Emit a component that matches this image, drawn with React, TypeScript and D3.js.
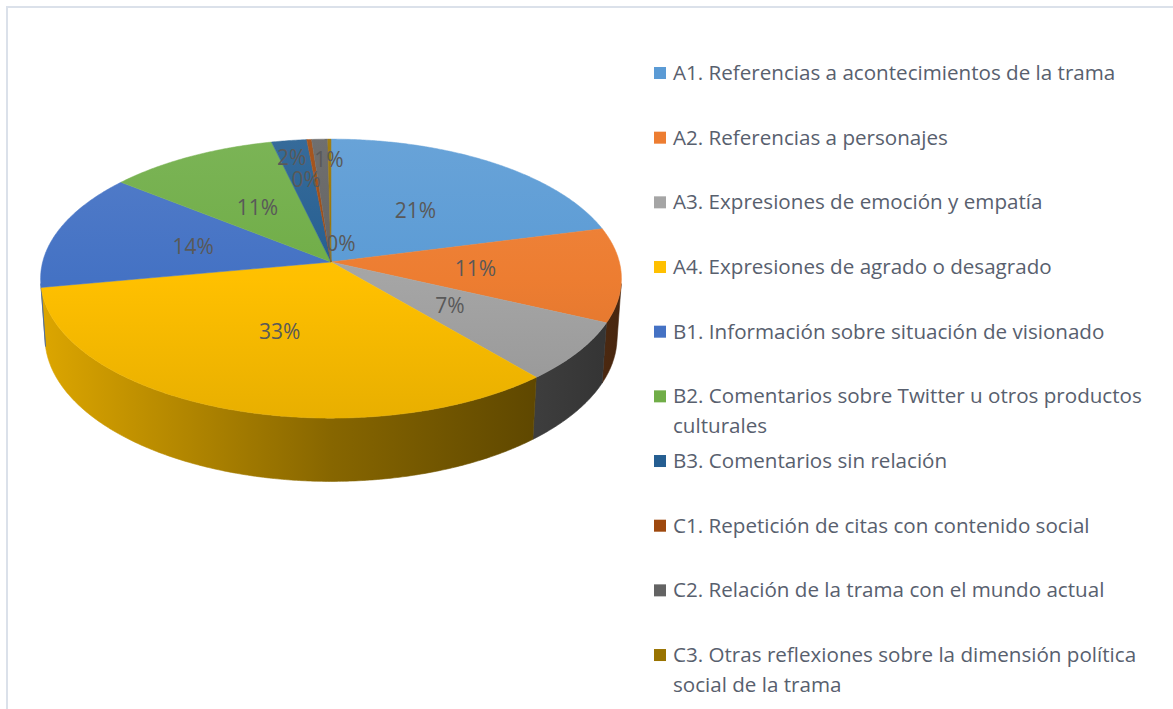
import React, { useMemo } from "react";
import * as d3 from "d3";

const categories = [
  "A1. Referencias a acontecimientos de la trama",
  "A2. Referencias a personajes",
  "A3. Expresiones de emoción y empatía",
  "A4. Expresiones de agrado o desagrado",
  "B1. Información sobre situación de visionado",
  "B2. Comentarios sobre Twitter u otros productos culturales",
  "B3. Comentarios sin relación",
  "C1. Repetición de citas con contenido social",
  "C2. Relación de la trama con el mundo actual",
  "C3. Otras reflexiones sobre la dimensión política social de la trama",
];
const values = [21.0, 10.9, 6.9, 33.3, 13.6, 10.6, 2.2, 0.3, 1.0, 0.2];
const colors = [
  "#5B9BD5", "#ED7D31", "#A5A5A5", "#FFC000", "#4472C4",
  "#70AD47", "#255E91", "#9E480E", "#636363", "#997300",
];
// label placement on the pie's top plane: radius fraction and angle nudge (degrees)
const labelPlacement = [
  { r: 0.5, dA: 0 }, { r: 0.5, dA: 0 }, { r: 0.5, dA: 0 }, { r: 0.5, dA: 0 },
  { r: 0.5, dA: 0 }, { r: 0.5, dA: 0 }, { r: 0.85, dA: -0.8 }, { r: 0.66, dA: -3.2 },
  { r: 0.82, dA: 2 }, { r: 0.145, dA: 14.4 },
];

const W = 1173;
const H = 709;
const CX = 331;
const APEX_Y = 262;
const FOCAL = 2128;
const DIST = 7.38;
const SIN_T = 0.477;
const COS_T = Math.sqrt(1 - SIN_T * SIN_T);
const THICK = 0.233;

const LEG_FONT = 20.6;
const LAB_FONT = 21;
const FONT = '"Open Sans", "Noto Sans", sans-serif';

function project(x: number, y: number, z: number): [number, number] {
  const w = DIST - y * SIN_T - z * COS_T;
  const u = (FOCAL * x) / w;
  const v = (FOCAL * (y * COS_T - z * SIN_T)) / w;
  return [CX + u, APEX_Y - v];
}
function rim(a: number, r = 1, y = 0): [number, number] {
  return project(r * Math.sin(a), y, -r * Math.cos(a));
}
function shade(col: string, k: number) {
  const c = d3.rgb(col);
  return d3.rgb(c.r * k, c.g * k, c.b * k).formatHex();
}
function sampleAngles(a0: number, a1: number) {
  const n = Math.max(2, Math.ceil((a1 - a0) / (Math.PI / 360)));
  return d3.range(n + 1).map((i) => a0 + ((a1 - a0) * i) / n);
}

let ctx: CanvasRenderingContext2D | null = null;
function measure(t: string) {
  if (!ctx) ctx = document.createElement("canvas").getContext("2d");
  if (!ctx) return t.length * LEG_FONT * 0.5;
  ctx.font = `${LEG_FONT}px ${FONT}`;
  return ctx.measureText(t).width;
}
function wrap(t: string, maxW: number) {
  const words = t.split(" ");
  const lines: string[] = [];
  let cur = "";
  for (const w of words) {
    const test = cur ? cur + " " + w : w;
    if (cur && measure(test) > maxW) {
      lines.push(cur);
      cur = w;
    } else cur = test;
  }
  if (cur) lines.push(cur);
  return lines;
}

export default function App() {
  const arcs = useMemo(
    () => d3.pie<number>().sort(null).value((d) => d)(values),
    []
  );
  const total = d3.sum(values);
  const zVis = 1 / (DIST * COS_T);
  const visA0 = Math.acos(-zVis);
  const visA1 = 2 * Math.PI - visA0;
  const apex = project(0, 0, 0);
  const topY = rim(0)[1];
  const botY = rim(Math.PI)[1];
  const leftX = CX - 295;
  const rightX = CX + 295;
  const line = d3.line();

  const legendY0 = 80;
  const legendStep = 64.67;

  return (
    <svg
      width={W}
      height={H}
      style={{ position: "absolute", left: 0, top: 0, background: "#fff" }}
      fontFamily={FONT}
    >
      <defs>
        {colors.map((c, i) => (
          <React.Fragment key={i}>
            <linearGradient id={`top${i}`} gradientUnits="userSpaceOnUse" x1={0} y1={topY} x2={0} y2={botY}>
              <stop offset="0" stopColor={d3.interpolateRgb(c, "#ffffff")(0.08)} />
              <stop offset="0.5" stopColor={c} />
              <stop offset="1" stopColor={shade(c, 0.91)} />
            </linearGradient>
            <linearGradient id={`side${i}`} gradientUnits="userSpaceOnUse" x1={leftX} y1={0} x2={rightX} y2={0}>
              <stop offset="0" stopColor={shade(c, 0.87)} />
              <stop offset="0.5" stopColor={shade(c, 0.53)} />
              <stop offset="1" stopColor={shade(c, 0.3)} />
            </linearGradient>
          </React.Fragment>
        ))}
      </defs>
      <rect x={7} y={7} width={W + 20} height={H + 20} fill="#fff" stroke="#dbe1ea" strokeWidth={2} />

      {/* side walls */}
      {arcs.map((a, i) => {
        const s = Math.max(a.startAngle, visA0);
        const e = Math.min(a.endAngle, visA1);
        if (e <= s) return null;
        const angs = sampleAngles(s, e);
        const topPts = angs.map((t) => rim(t, 1, 0));
        const botPts = angs.slice().reverse().map((t) => rim(t, 1, -THICK));
        const d = line([...topPts, ...botPts]) + "Z";
        return <path key={`s${i}`} d={d} fill={`url(#side${i})`} stroke={`url(#side${i})`} strokeWidth={0.6} />;
      })}

      {/* top faces */}
      {arcs.map((a, i) => {
        const angs = sampleAngles(a.startAngle, a.endAngle);
        const pts: [number, number][] = [apex, ...angs.map((t) => rim(t))];
        const d = line(pts) + "Z";
        return <path key={`t${i}`} d={d} fill={`url(#top${i})`} stroke={`url(#top${i})`} strokeWidth={0.5} strokeLinejoin="round" />;
      })}

      {/* data labels */}
      {arcs.map((a, i) => {
        const mid = (a.startAngle + a.endAngle) / 2 + (labelPlacement[i].dA * Math.PI) / 180;
        const [x, y] = rim(mid, labelPlacement[i].r);
        const pct = Math.round((values[i] / total) * 100 + 1e-9);
        return (
          <text key={`l${i}`} x={x} y={y} fontSize={LAB_FONT} fill="#595959" textAnchor="middle" dominantBaseline="central">
            {`${pct}%`}
          </text>
        );
      })}

      {/* legend */}
      {categories.map((cat, i) => {
        const base = legendY0 + i * legendStep;
        const lines = wrap(cat, 492);
        return (
          <g key={`g${i}`}>
            <rect x={654} y={base - 13} width={12} height={12} fill={colors[i]} />
            {lines.map((ln, j) => (
              <text key={j} x={673} y={base + j * 30} fontSize={LEG_FONT} fill="#58606e">
                {ln}
              </text>
            ))}
          </g>
        );
      })}
    </svg>
  );
}
